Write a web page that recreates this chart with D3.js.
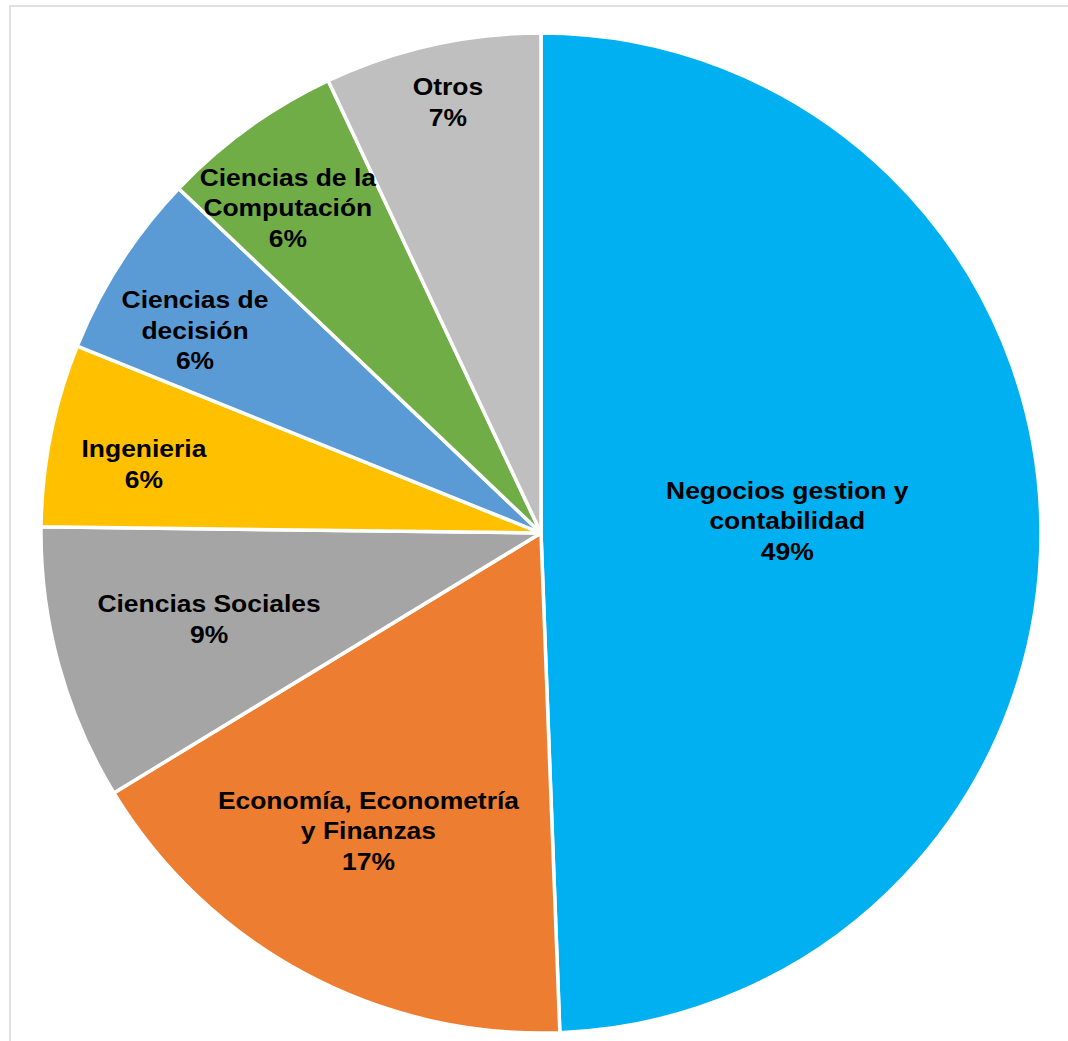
<!DOCTYPE html>
<html>
<head>
<meta charset="utf-8">
<script src="https://cdn.jsdelivr.net/npm/d3@7"></script>
<style>
  body { margin: 0; background: #fff; }
  svg { display: block; }
  .lbl { font-family: "Liberation Sans", Arial, sans-serif; font-weight: bold; font-size: 23px; fill: #000; }
</style>
</head>
<body>
<svg width="1068" height="1041"></svg>
<script>
// data (slices go clockwise from 12 o'clock)
let categories = ['Negocios gestion y contabilidad', 'Economía, Econometría y Finanzas', 'Ciencias Sociales',
  'Ingenieria', 'Ciencias de decisión', 'Ciencias de la Computación', 'Otros'];
let values = [49.4, 16.9, 8.9, 5.9, 6.0, 5.9, 7.0];
let labelLines = [
  ['Negocios gestion y', 'contabilidad'],
  ['Economía, Econometría', 'y Finanzas'],
  ['Ciencias Sociales'],
  ['Ingenieria'],
  ['Ciencias de', 'decisión'],
  ['Ciencias de la', 'Computación'],
  ['Otros']
];
let colors = ['#00B0F0', '#ED7D31', '#A5A5A5', '#FFC000', '#5B9BD5', '#70AD47', '#BFBFBF'];
// label placement: share of the radius, and a small turn (degrees) off the slice middle
let labelDist = [0.493, 0.689, 0.686, 0.806, 0.802, 0.824, 0.881];
let labelTurn = [-1.7, 1.8, 0.7, -1.5, -2.4, -2.1, 0.4];

let svg = d3.select('svg');
let cx = 541, cy = 533, r = 500;

// chart area frame (only top and left edge show)
svg.append('rect').attr('x', 10).attr('y', 6).attr('width', 1100).attr('height', 1100)
  .attr('fill', 'none').attr('stroke', '#d9d9d9').attr('stroke-width', 1.6);

let total = d3.sum(values);
let pie = d3.pie().sort(null).value(d => d);
let arcs = pie(values);
let arc = d3.arc().innerRadius(0).outerRadius(r);

let g = svg.append('g').attr('transform', `translate(${cx},${cy})`);

g.selectAll('path').data(arcs).join('path')
  .attr('d', arc)
  .attr('fill', (d, i) => colors[i])
  .attr('stroke', '#fff')
  .attr('stroke-width', 3.5)
  .attr('stroke-linejoin', 'round');

let lineH = 30.7;
g.selectAll('text').data(arcs).join('text')
  .attr('class', 'lbl')
  .attr('text-anchor', 'middle')
  .each(function (d, i) {
    let a = (d.startAngle + d.endAngle) / 2 + labelTurn[i] * Math.PI / 180;
    let c = d3.pointRadial(a, r * labelDist[i]);
    let lines = labelLines[i].concat([Math.round(values[i] / total * 100) + '%']);
    let y0 = c[1] - (lines.length - 1) * lineH / 2;
    let t = d3.select(this).attr('transform', `translate(${c[0]},${y0}) scale(1.15,1)`);
    lines.forEach((s, k) => {
      t.append('tspan').attr('x', 0).attr('y', k * lineH).attr('dy', '0.36em').text(s);
    });
  });
</script>
</body>
</html>
